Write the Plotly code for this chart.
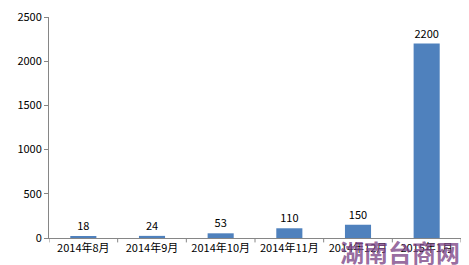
import plotly.graph_objects as go

categories = ["2014年8月", "2014年9月", "2014年10月", "2014年11月", "2014年12月", "2015年1月"]
values = [18, 24, 53, 110, 150, 2200]
y_ticks = [0, 500, 1000, 1500, 2000, 2500]

fig = go.Figure()
fig.add_trace(go.Bar(
    x=list(range(len(categories))), y=values,
    marker=dict(color="#4F81BD", line=dict(width=0)),
    width=0.38,
    text=[str(v) for v in values], textposition="outside",
    textfont=dict(size=11, color="#000000", family="Noto Sans CJK SC"),
    cliponaxis=False,
))

fig.update_layout(
    width=469, height=265,
    margin=dict(l=49, r=8, t=12, b=27),
    paper_bgcolor="white", plot_bgcolor="white",
    showlegend=False,
    font=dict(family="Noto Sans CJK SC", size=11, color="#000000"),
    xaxis=dict(
        tickmode="array", tickvals=list(range(len(categories))), ticktext=categories,
        range=[-0.5, len(categories) - 0.5],
        showline=True, linecolor="#868686", linewidth=1,
        ticks="", showgrid=False, zeroline=False,
        tickfont=dict(size=11),
    ),
    yaxis=dict(
        range=[0, 2500], tickvals=y_ticks,
        showline=True, linecolor="#868686", linewidth=1,
        ticks="outside", ticklen=4, tickcolor="#868686",
        showgrid=False, zeroline=False,
        tickfont=dict(size=11),
    ),
)

# category separator tick marks on x axis
for i in range(len(categories) + 1):
    fig.add_shape(type="line", xref="x", yref="paper",
                  x0=i - 0.5, x1=i - 0.5, y0=0, y1=-0.02,
                  line=dict(color="#868686", width=1))

fig.add_annotation(
    text="<b>湖南台商网</b>", xref="paper", yref="paper",
    x=1.0, y=-0.062, xanchor="right", yanchor="middle",
    showarrow=False, borderpad=0,
    font=dict(size=24, color="rgba(125,70,135,0.8)", family="Noto Sans CJK SC"),
)

fig.write_html("out.html")
